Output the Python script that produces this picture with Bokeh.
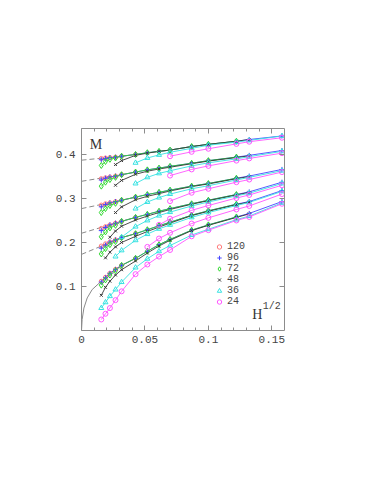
import numpy as np
from bokeh.plotting import figure
from bokeh.models import (Range1d, LinearAxis, FixedTicker, Legend, LegendItem,
                          Label, CustomJSTickFormatter)
from bokeh.embed import file_html
from bokeh.resources import INLINE

N = None
# H^{1/2} values at which the magnetisation was measured
X_GRID = [0.0156, 0.0189, 0.0224, 0.0268, 0.0316, 0.0426, 0.0519, 0.0611,
          0.0698, 0.0868, 0.1, 0.1221, 0.1322, 0.158]
SIZES = ["120", "96", "72", "48", "36", "24"]

# group 1 (lowest)
g1_120 = [.112, .121, .130, .139, .148, .164, N, N, N, N, N, N, N, N]
g1_96 = [.110, .120, .130, .139, .148, .164, .180, .195, .207, .228, .240, .258, .266, .293]
g1_72 = [.103, .115, .126, .136, .148, .164, .180, .195, .207, .228, .240, .258, N, N]
g1_48 = [.080, .098, .112, .126, .138, .158, .176, .192, .205, .227, .239, .257, .265, N]
g1_36 = [.051, .064, .078, .093, .110, .143, .163, .180, .193, .217, .230, .252, .260, .290]
g1_24 = [.025, .038, .051, .069, .089, .128, .150, .168, .183, .214, .228, .250, .258, .288]
# group 2
g2_120 = [.192, .197, .201, .206, .211, .220, N, N, N, N, N, N, N, N]
g2_96 = [.187, .194, .201, .206, .211, .220, .229, .238, .246, .262, .272, .287, .293, .318]
g2_72 = [.174, .186, .195, .202, .211, .220, .229, .238, .246, .262, .272, .287, N, N]
g2_48 = [N, .165, .178, .190, .200, .214, .225, .235, .244, .261, .271, .286, .292, N]
g2_36 = [N, N, N, .168, .182, .205, .219, .231, .240, .257, .268, .284, .291, .316]
g2_24 = [N, N, N, N, N, N, .190, .209, .222, .243, .256, .275, .283, .310]
# group 3
g3_120 = [.232, .236, .240, .244, .248, .257, N, N, N, N, N, N, N, N]
g3_96 = [.227, .234, .240, .244, .248, .257, .264, .271, .277, .288, .296, .309, .315, .337]
g3_72 = [.213, .224, .233, .239, .248, .257, .264, .271, .277, .288, .296, .309, N, N]
g3_48 = [N, N, .212, .226, .237, .251, .260, .268, .275, .287, .295, .308, .314, N]
g3_36 = [N, N, N, N, .212, .236, .250, .261, .269, .283, .292, .306, .312, .334]
g3_24 = [N, N, N, N, N, N, N, .240, .254, .273, .284, .301, .308, .330]
# group 4
g4_120 = [.285, .288, .290, .293, .296, .303, N, N, N, N, N, N, N, N]
g4_96 = [.281, .286, .290, .293, .296, .303, .309, .314, .319, .328, .334, .346, .351, .366]
g4_72 = [.268, .277, .284, .289, .296, .303, .309, .314, .319, .328, .334, .346, N, N]
g4_48 = [N, N, N, .268, .281, .297, .305, .311, .317, .327, .333, .345, .350, N]
g4_36 = [N, N, N, N, N, .277, .292, .302, .310, .322, .329, .342, .348, .363]
g4_24 = [N, N, N, N, N, N, N, N, .294, .313, .322, .337, .343, .360]
# group 5
g5_120 = [.345, .347, .349, .351, .354, .360, N, N, N, N, N, N, N, N]
g5_96 = [.342, .346, .349, .351, .354, .360, .365, .369, .373, .380, .386, .394, .398, .409]
g5_72 = [.328, .337, .343, .348, .354, .360, .365, .369, .373, .380, .386, .394, N, N]
g5_48 = [N, N, N, .330, .341, .355, .362, .367, .371, .379, .385, .393, .397, N]
g5_36 = [N, N, N, N, N, .334, .348, .357, .363, .374, .381, .390, .395, .407]
g5_24 = [N, N, N, N, N, N, N, N, .352, .366, .374, .386, .391, .403]
# group 6 (highest)
g6_120 = [.391, .392, .393, .394, .396, .400, N, N, N, N, N, N, N, N]
g6_96 = [.388, .391, .393, .394, .396, .400, .404, .407, .410, .418, .423, .430, .434, .442]
g6_72 = [.375, .384, .389, .392, .396, .400, .404, .407, .410, .418, .423, .430, N, N]
g6_48 = [N, N, N, .377, .386, .398, .403, .407, .410, .418, .423, .430, .434, N]
g6_36 = [N, N, N, N, N, .381, .392, .399, .405, .414, .421, .428, .432, .442]
g6_24 = [N, N, N, N, N, N, N, N, .396, .406, .413, .424, .429, .438]

# extrapolations to H = 0
fit1_x = [0, 0.0005, 0.0019, 0.0045, 0.0084, 0.0156, 0.0224, 0.0316]
fit1_y = [0, 0.025, 0.051, 0.074, 0.093, 0.112, 0.130, 0.148]
fitd_x = [0, 0.0316]
fit2_y = [0.173, 0.211]
fit3_y = [0.221, 0.248]
fit4_y = [0.277, 0.296]
fit5_y = [0.339, 0.354]
fit6_y = [0.387, 0.396]

groups = [
    [g1_120, g1_96, g1_72, g1_48, g1_36, g1_24],
    [g2_120, g2_96, g2_72, g2_48, g2_36, g2_24],
    [g3_120, g3_96, g3_72, g3_48, g3_36, g3_24],
    [g4_120, g4_96, g4_72, g4_48, g4_36, g4_24],
    [g5_120, g5_96, g5_72, g5_48, g5_36, g5_24],
    [g6_120, g6_96, g6_72, g6_48, g6_36, g6_24],
]

colors = ["#ff7a7a", "#4646ff", "#2fd82f", "#383838", "#36e2e2", "#ff55ff"]
markers = ["circle", "cross", "diamond", "x", "triangle", "circle"]
msizes = [4, 5, 6, 4, 5, 5]

MONO = "Liberation Mono"
SERIF = "Liberation Serif"

p = figure(frame_width=203, frame_height=202, x_range=Range1d(0, 0.16), y_range=Range1d(0, 0.459),
           output_backend="svg", toolbar_location=None,
           min_border_left=71, min_border_right=20, min_border_top=119, min_border_bottom=41,
           margin=(9, 0, 0, 10))
p.outline_line_color = None
p.xgrid.visible = False
p.ygrid.visible = False
p.background_fill_color = "white"
p.border_fill_color = "white"

fmt = CustomJSTickFormatter(code="return tick.toString();")
xt = FixedTicker(ticks=[0, 0.05, 0.1, 0.15],
                 minor_ticks=[0.01, 0.02, 0.03, 0.04, 0.06, 0.07, 0.08, 0.09, 0.11, 0.12, 0.13, 0.14])
yt = FixedTicker(ticks=[0.1, 0.2, 0.3, 0.4], minor_ticks=[])


def style_axis(ax, ticker, labels=True):
    ax.ticker = ticker
    ax.axis_line_color = "#8c8c8c"
    ax.major_tick_line_color = "#8c8c8c"
    ax.minor_tick_line_color = "#8c8c8c"
    ax.major_tick_in = 5
    ax.major_tick_out = 0
    ax.minor_tick_in = 3
    ax.minor_tick_out = 0
    if labels:
        ax.formatter = fmt
        ax.major_label_text_font = MONO
        ax.major_label_text_font_size = "11px"
        ax.major_label_text_color = "#444444"
    else:
        ax.major_label_text_alpha = 0
        ax.major_label_text_font_size = "1px"


style_axis(p.xaxis[0], xt)
style_axis(p.yaxis[0], yt)
p.xaxis[0].major_label_standoff = 5
p.yaxis[0].major_label_standoff = 6
top = LinearAxis()
style_axis(top, xt, labels=False)
p.add_layout(top, "above")
right = LinearAxis()
style_axis(right, yt, labels=False)
p.add_layout(right, "right")

# fits
p.line(fit1_x, fit1_y, line_color="#8a8a8a", line_width=1)
for fy in [fit2_y, fit3_y, fit4_y, fit5_y, fit6_y]:
    p.line(fitd_x, fy, line_color="#8a8a8a", line_width=1, line_dash="5 3")

xg = np.array(X_GRID, dtype=float)
legend_renderers = [None] * 6
for gi, grp in enumerate(groups):
    for si, ser in enumerate(grp):
        y = np.array(ser, dtype=float)
        mask = ~np.isnan(y)
        p.line(xg[mask], y[mask], line_color=colors[si], line_width=1, line_alpha=0.9)
for gi, grp in enumerate(groups):
    for si, ser in enumerate(grp):
        y = np.array(ser, dtype=float)
        mask = ~np.isnan(y)
        r = p.scatter(xg[mask], y[mask], marker=markers[si], size=msizes[si],
                      line_color=colors[si], fill_color=None, line_width=1)
        if gi == 0:
            legend_renderers[si] = r

legend = Legend(items=[LegendItem(label=SIZES[i], renderers=[legend_renderers[i]]) for i in range(6)],
                location=(132, 23), orientation="vertical")
legend.border_line_color = None
legend.background_fill_alpha = 0
legend.padding = 0
legend.margin = 0
legend.spacing = 0
legend.label_height = 11
legend.glyph_height = 11
legend.glyph_width = 12
legend.label_standoff = 2
legend.label_text_font = MONO
legend.label_text_font_size = "10px"
legend.label_text_color = "#444444"
p.add_layout(legend, "center")

p.add_layout(Label(x=0.0065, y=0.423, text="M", text_font=SERIF, text_font_size="14px",
                   text_color="#333333", text_baseline="middle"))
p.add_layout(Label(x=0.1345, y=0.037, text="H", text_font=SERIF, text_font_size="14px",
                   text_color="#333333", text_baseline="middle"))
p.add_layout(Label(x=0.1428, y=0.055, text="1/2", text_font=MONO, text_font_size="10px",
                   text_color="#444444", text_baseline="middle"))

open("out.html", "w").write(file_html(p, INLINE))
